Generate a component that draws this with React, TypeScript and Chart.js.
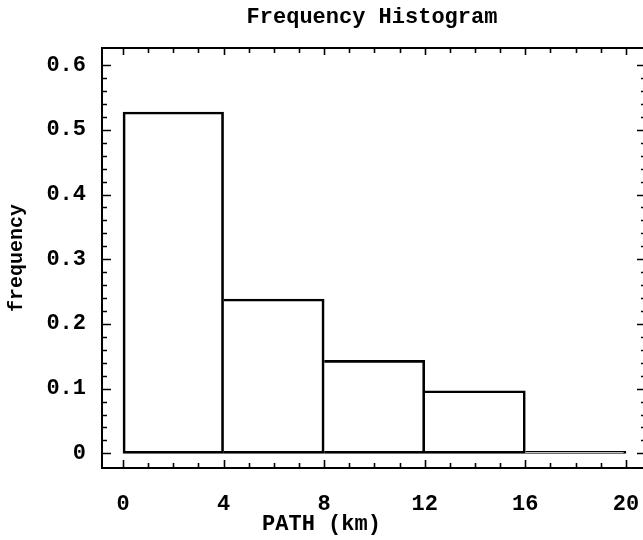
import React, { useEffect, useRef } from "react";
import { Chart, registerables } from "chart.js";

Chart.register(...registerables);

// Data
const binEdges = [0, 4, 8, 12, 16, 20];
const frequencies = [0.5275, 0.2385, 0.1437, 0.0968, 0.003];
const xTickValues = [0, 4, 8, 12, 16, 20];
const xTickLabels = ["0", "4", "8", "12", "16", "20"];
const yTickValues = [0, 0.1, 0.2, 0.3, 0.4, 0.5, 0.6];
const yTickLabels = ["0", "0.1", "0.2", "0.3", "0.4", "0.5", "0.6"];
const chartTitle = "Frequency Histogram";
const xTitle = "PATH (km)";
const yTitle = "frequency";

const X_MIN = -0.875;
const X_MAX = 20.68;
const Y_MIN = -0.0242;
const Y_MAX = 0.628;
const X_MINOR_STEP = 1;
const Y_MINOR_STEP = 0.02;

const FONT = "'Liberation Mono', 'DejaVu Sans Mono', monospace";

const framePlugin = {
  id: "frameTicks",
  afterDraw(chart: any) {
    const { ctx, chartArea } = chart;
    const xs = chart.scales.x;
    const ys = chart.scales.y;
    const L = chartArea.left;
    const R = chartArea.right;
    const T = chartArea.top;
    const B = chartArea.bottom;
    ctx.save();
    ctx.strokeStyle = "#000";
    ctx.lineWidth = 2;
    ctx.beginPath();
    ctx.moveTo(L + 1, T);
    ctx.lineTo(L + 1, B);
    ctx.moveTo(L, T + 1);
    ctx.lineTo(R, T + 1);
    ctx.moveTo(L, B - 1);
    ctx.lineTo(R, B - 1);
    ctx.stroke();

    ctx.lineWidth = 1.6;
    ctx.beginPath();
    const nx = Math.round((xTickValues[xTickValues.length - 1] - xTickValues[0]) / X_MINOR_STEP);
    for (let i = 0; i <= nx; i++) {
      const v = xTickValues[0] + i * X_MINOR_STEP;
      const major = xTickValues.includes(v);
      const px = Math.round(xs.getPixelForValue(v)) + 0.5;
      const lenB = major ? 8 : 5;
      const lenT = major ? 7 : 5;
      ctx.moveTo(px, B - 1);
      ctx.lineTo(px, B - 1 - lenB);
      ctx.moveTo(px, T + 1);
      ctx.lineTo(px, T + 1 + lenT);
    }
    const ny = Math.round((yTickValues[yTickValues.length - 1] - yTickValues[0]) / Y_MINOR_STEP);
    for (let i = 0; i <= ny; i++) {
      const v = yTickValues[0] + i * Y_MINOR_STEP;
      const major = i % 5 === 0;
      const py = Math.round(ys.getPixelForValue(v)) + 0.5;
      const lenL = major ? 9 : 5;
      const lenR = major ? 6 : 2;
      ctx.moveTo(L + 1, py);
      ctx.lineTo(L + 1 + lenL, py);
      ctx.moveTo(R, py);
      ctx.lineTo(R - lenR, py);
    }
    ctx.stroke();
    ctx.restore();
  },
};

export default function App() {
  const canvasRef = useRef<HTMLCanvasElement | null>(null);

  useEffect(() => {
    document.body.style.margin = "0";
    const canvas = canvasRef.current;
    if (!canvas) return;
    const data = frequencies.map((f, i) => ({
      x: (binEdges[i] + binEdges[i + 1]) / 2,
      y: f,
    }));
    const chart = new Chart(canvas, {
      type: "bar",
      data: {
        datasets: [
          {
            data: data as any,
            backgroundColor: "rgba(0,0,0,0)",
            borderColor: "#000",
            borderWidth: 2,
            borderSkipped: ((c: any) => (c.dataIndex === 0 ? false : "left")) as any,
            barPercentage: 1,
            categoryPercentage: 1,
          },
        ],
      },
      options: {
        animation: false,
        responsive: false,
        maintainAspectRatio: false,
        layout: { padding: 0 },
        plugins: {
          legend: { display: false },
          tooltip: { enabled: false },
          title: {
            display: true,
            fullSize: false,
            text: chartTitle,
            color: "#000",
            font: { family: FONT, size: 22, weight: "bold", lineHeight: 1.2 },
            padding: { top: 4, bottom: 16.6 },
          },
          subtitle: {
            display: true,
            position: "bottom",
            fullSize: true,
            text: xTitle,
            color: "#000",
            font: { family: FONT, size: 22, weight: "bold", lineHeight: 1.2 },
            padding: { top: 0, bottom: 2.8 },
          },
        },
        scales: {
          x: {
            type: "linear",
            min: X_MIN,
            max: X_MAX,
            offset: false,
            grid: { display: false, drawTicks: false },
            border: { display: false },
            afterBuildTicks: (s: any) => {
              s.ticks = xTickValues.map((v) => ({ value: v }));
            },
            afterFit: (s: any) => {
              s.height = 41.8;
              s.paddingLeft = 0;
              s.paddingRight = 0;
            },
            ticks: {
              autoSkip: false,
              maxRotation: 0,
              padding: 22,
              color: "#000",
              font: { family: FONT, size: 22, weight: "bold" },
              callback: (v: any) => {
                const i = xTickValues.indexOf(Number(v));
                return i >= 0 ? xTickLabels[i] : "";
              },
            },
            title: { display: false },
          },
          y: {
            type: "linear",
            min: Y_MIN,
            max: Y_MAX,
            grid: { display: false, drawTicks: false },
            border: { display: false },
            afterBuildTicks: (s: any) => {
              s.ticks = yTickValues.map((v) => ({ value: v }));
            },
            afterFit: (s: any) => {
              s.width = 101;
              s.paddingTop = 0;
              s.paddingBottom = 0;
            },
            ticks: {
              autoSkip: false,
              padding: 15,
              color: "#000",
              font: { family: FONT, size: 22, weight: "bold" },
              callback: (v: any) => {
                const i = yTickValues.findIndex((t) => Math.abs(t - Number(v)) < 1e-9);
                return i >= 0 ? yTickLabels[i] : "";
              },
            },
            title: {
              display: true,
              text: yTitle,
              color: "#000",
              font: { family: FONT, size: 20, weight: "bold", lineHeight: 1.2 },
              padding: { top: 5, bottom: 0 },
            },
          },
        },
      },
      plugins: [framePlugin],
    });
    return () => chart.destroy();
  }, []);

  return (
    <div style={{ width: 643, height: 540, background: "#fff" }}>
      <canvas ref={canvasRef} width={643} height={540} style={{ display: "block" }} />
    </div>
  );
}
